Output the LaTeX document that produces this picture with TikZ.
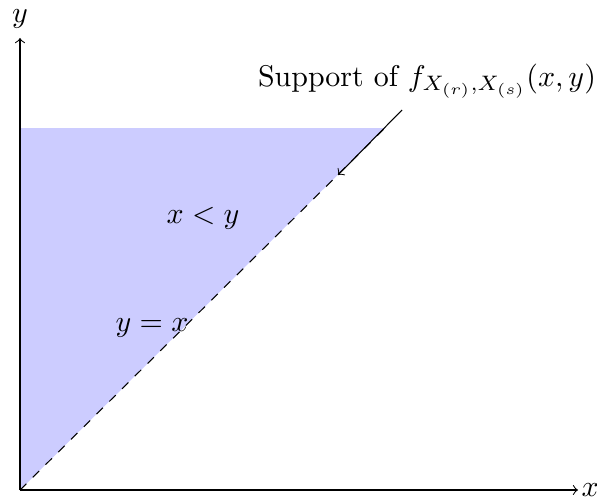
\documentclass[tikz,border=0pt]{standalone}
\begin{document}
\begin{tikzpicture}[x=0.334pt,y=-0.334pt,
  axis/.style={->,line width=0.35pt},
  lbl/.style={inner sep=1pt}]
\useasboundingbox (0,0) rectangle (597,502);
\coordinate (O) at (20,490);
\coordinate (TL) at (20,128);
\coordinate (TR) at (385,128);
\fill[blue!20] (O) -- (TL) -- (TR) -- cycle;
\draw[dashed, line width=0.35pt] (O) -- (TR);
\draw[axis] (O) -- (578,490) node[right, inner sep=1pt] (xl) {$x$};
\draw[axis] (O) -- (20,38) node[above, inner sep=3pt] (yl) {$y$};
\node[lbl] (ineq) at (203,218) {$x<y$};
\node[lbl] (diag) at (152,328) {$y=x$};
\node[lbl] (supp) at (427,81) {Support of $f_{X_{(r)},X_{(s)}}(x,y)$};
\coordinate (s1) at (402,110);
\coordinate (s2) at (338,175);
\draw[->, line width=0.35pt] (s1) -- (s2);
\end{tikzpicture}
\end{document}
